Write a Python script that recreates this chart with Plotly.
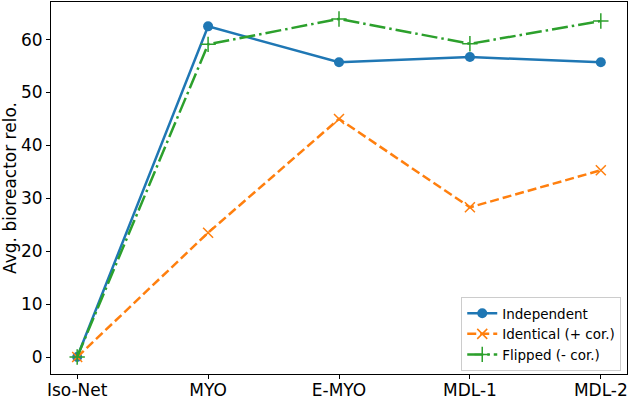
import plotly.graph_objects as go

categories = ["Iso-Net", "MYO", "E-MYO", "MDL-1", "MDL-2"]
independent = [0, 62.5, 55.7, 56.7, 55.7]
identical = [0, 23.5, 45.0, 28.3, 35.3]
flipped = [0, 59.1, 63.9, 59.2, 63.5]
y_ticks = [0, 10, 20, 30, 40, 50, 60]

x = list(range(len(categories)))
blue, orange, green = "#1f77b4", "#ff7f0e", "#2ca02c"

fig = go.Figure()
fig.add_trace(go.Scatter(x=x, y=independent, name="Independent", mode="lines+markers",
                         line=dict(color=blue, width=2.5),
                         marker=dict(symbol="circle", size=10, color=blue)))
fig.add_trace(go.Scatter(x=x, y=identical, name="Identical (+ cor.)", mode="lines+markers",
                         line=dict(color=orange, width=2.5, dash="9px,4px"),
                         marker=dict(symbol="x-thin", size=10, color=orange,
                                     line=dict(color=orange, width=1.5))))
fig.add_trace(go.Scatter(x=x, y=flipped, name="Flipped (- cor.)", mode="lines+markers",
                         line=dict(color=green, width=2.5, dash="16px,4px,2.5px,4px"),
                         marker=dict(symbol="cross-thin", size=11, color=green,
                                     line=dict(color=green, width=1.5))))

axis_common = dict(showgrid=False, zeroline=False, showline=True, linecolor="black",
                   linewidth=1, mirror=True, ticks="outside", ticklen=4,
                   tickcolor="black", tickfont=dict(size=17, color="black"),
                   automargin=False)
fig.update_xaxes(range=[-0.2, 4.2], tickvals=x, ticktext=categories,
                 ticklabelstandoff=-3, **axis_common)
fig.update_yaxes(range=[-3.2, 67.1], tickvals=y_ticks,
                 title=dict(text="Avg. bioreactor relo.", font=dict(size=17, color="black"),
                            standoff=4),
                 **axis_common)
fig.update_layout(
    width=629, height=396,
    margin=dict(l=51, r=2, t=2, b=22),
    plot_bgcolor="white", paper_bgcolor="white",
    font=dict(family="DejaVu Sans", color="black"),
    legend=dict(x=0.99, y=0.008, xanchor="right", yanchor="bottom",
                bgcolor="white", bordercolor="#cccccc", borderwidth=1,
                font=dict(size=13.5), tracegroupgap=0, itemwidth=30),
    showlegend=True,
)
fig.write_html("out.html", config={"displayModeBar": False},
               post_script="document.body.style.margin='0';document.body.style.overflow='hidden';")
